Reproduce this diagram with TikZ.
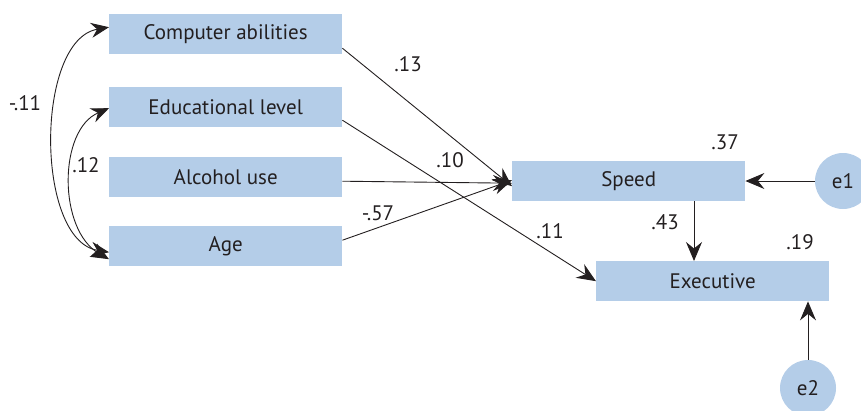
\documentclass[tikz,border=0pt]{standalone}
\usepackage{fontspec}
\setmainfont{PT Sans}
\usetikzlibrary{arrows.meta}
\definecolor{boxblue}{RGB}{180,205,232}
\definecolor{inkgray}{RGB}{35,31,32}
\begin{document}
\begin{tikzpicture}[x=1pt,y=-1pt,
  varbox/.style={fill=boxblue, draw=none, minimum width=233pt, minimum height=40pt,
    inner sep=0pt, font=\fontsize{21}{25}\selectfont, text=inkgray, anchor=north west},
  errnode/.style={circle, fill=boxblue, minimum size=56pt, inner sep=0pt,
    font=\fontsize{21}{25}\selectfont, text=inkgray},
  path/.style={draw=inkgray, line width=0.9pt, -{Stealth[length=19pt,width=16pt,inset=6.5pt]}},
  cov/.style={draw=inkgray, line width=0.9pt,
    {Stealth[length=18pt,width=15pt,inset=6pt]}-{Stealth[length=18pt,width=15pt,inset=6pt]}},
  coef/.style={font=\fontsize{21}{25}\selectfont, text=inkgray}]
\useasboundingbox (0,0) rectangle (861,410);
\clip (0,0) rectangle (861,410);

% observed variables
\node[varbox] (comp) at (109,14) {Computer abilities};
\node[varbox] (edu)  at (109,87) {Educational level};
\node[varbox] (alc)  at (109,157) {Alcohol use};
\node[varbox] (age)  at (109,226) {Age};
\node[varbox] (speed) at (512,161) {Speed};
\node[varbox] (exec)  at (596,261) {Executive};

% error terms
\node[errnode] (e1) at (843,181) {e1};
\node[errnode] (e2) at (808,388) {e2};

% regression paths
\draw[path] ([yshift=-14pt]comp.east) -- ([yshift=-5pt]speed.west);
\draw[path] ([yshift=-13pt]edu.east) -- (exec.west);
\draw[path] ([yshift=-4pt]alc.east) -- ([yshift=-2pt]speed.west);
\draw[path] ([yshift=6pt]age.east) -- ([yshift=1pt]speed.west);
\draw[path] (speed.south -| 694,0) -- (exec.north -| 694,0);
\draw[path] (e1.west) -- (speed.east |- e1.west);
\draw[path] (e2.north) -- (exec.south -| e2.north);

% covariances
\draw[cov] ([yshift=7pt]comp.west) .. controls (35,40) and (35,240) .. ([yshift=-6pt]age.west);
\draw[cov] ([yshift=-1pt]edu.west) .. controls (58,130) and (58,230) .. ([yshift=-13pt]age.west);

% coefficients
\node[coef] at (408,64) {.13};
\node[coef] at (450,160) {.10};
\node[coef] at (378,213) {-.57};
\node[coef] at (550,231) {.11};
\node[coef] at (725,142) {.37};
\node[coef] at (665,222) {.43};
\node[coef] at (800,242) {.19};
\node[coef] at (25,103) {-.11};
\node[coef] at (86,165) {.12};
\end{tikzpicture}
\end{document}
